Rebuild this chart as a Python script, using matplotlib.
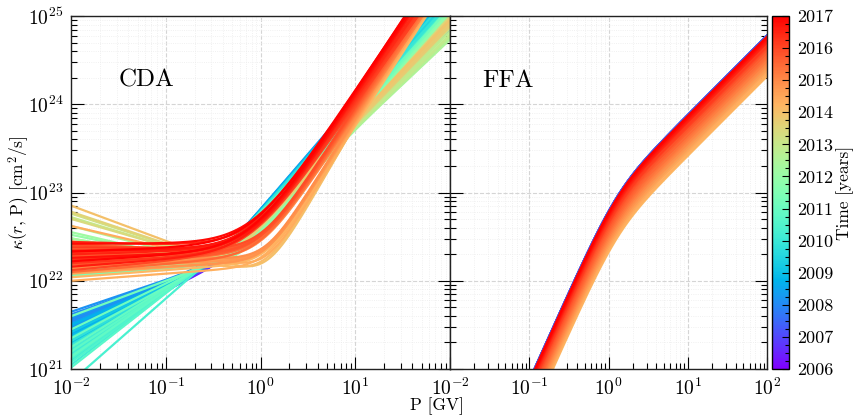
import numpy as np
import matplotlib
matplotlib.use('Agg')
import matplotlib.pyplot as plt
from matplotlib.ticker import LogLocator, MultipleLocator

plt.rcParams.update({
    'font.family': 'serif',
    'font.serif': ['cmr10', 'DejaVu Serif'],
    'mathtext.fontset': 'cm',
    'axes.formatter.use_mathtext': True,
    'axes.unicode_minus': False,
})

# CDA: one curve per month, 2006.0 ... 2017.0
cda_times = np.arange(2006, 2017.001, 1 / 12)

# CDA: log10 kappa at P = 0.01 GV, one row per year
cda_k001 = [
    21.38, 21.42, 21.35, 21.45, 21.40, 21.48, 21.36, 21.44, 21.41, 21.47, 21.39, 21.46,
    21.50, 21.45, 21.55, 21.48, 21.52, 21.58, 21.47, 21.53, 21.49, 21.56, 21.51, 21.60,
    21.62, 21.55, 21.65, 21.58, 21.48, 21.52, 21.40, 21.45, 21.35, 21.50, 21.42, 21.38,
    21.30, 21.25, 21.42, 21.33, 21.20, 21.36, 21.15, 21.28, 21.22, 21.32, 21.18, 21.27,
    21.10, 21.18, 21.05, 21.22, 20.86, 21.12, 21.08, 21.15, 21.02, 21.20, 21.14, 21.25,
    21.35, 21.45, 21.60, 22.06, 22.08, 22.12, 22.05, 22.15, 22.10, 22.30, 22.48, 22.40,
    22.52, 22.30, 22.55, 22.15, 22.25, 22.48, 22.35, 22.62, 22.20, 22.40, 22.28, 22.33,
    22.72, 22.32, 22.40, 22.76, 22.25, 22.70, 22.35, 22.78, 22.30, 22.22, 22.38, 22.28,
    22.85, 22.45, 22.04, 22.30, 22.00, 22.62, 22.20, 22.08, 22.35, 22.14, 22.10, 22.25,
    22.15, 22.30, 22.42, 22.22, 22.20, 22.36, 22.10, 22.26, 22.35, 22.18, 22.28, 22.40,
    22.12, 22.32, 22.38, 22.20, 22.24, 22.44, 22.30, 22.16, 22.34, 22.26, 22.42, 22.22,
    22.33,
]
# CDA: slope below the break
cda_slope_lo = [
    0.52, 0.50, 0.55, 0.48, 0.51, 0.47, 0.53, 0.49, 0.50, 0.47, 0.52, 0.48,
    0.45, 0.48, 0.42, 0.46, 0.44, 0.40, 0.47, 0.43, 0.46, 0.41, 0.45, 0.39,
    0.38, 0.42, 0.36, 0.40, 0.48, 0.45, 0.52, 0.49, 0.55, 0.46, 0.50, 0.53,
    0.60, 0.64, 0.52, 0.58, 0.68, 0.57, 0.72, 0.62, 0.66, 0.59, 0.70, 0.63,
    0.78, 0.72, 0.82, 0.68, 0.94, 0.76, 0.79, 0.74, 0.84, 0.70, 0.75, 0.67,
    0.58, 0.52, 0.40, 0.08, 0.08, 0.05, 0.10, 0.03, 0.06, -0.08, -0.20, -0.15,
    -0.22, 0.00, -0.25, 0.03, 0.02, -0.20, -0.03, -0.28, 0.05, -0.08, 0.01, -0.02,
    -0.33, -0.03, -0.08, -0.35, 0.02, -0.31, -0.05, -0.36, -0.02, 0.04, -0.06, 0.00,
    -0.40, -0.18, 0.08, -0.05, 0.08, -0.25, 0.02, 0.07, -0.06, 0.05, 0.06, 0.00,
    0.06, 0.00, -0.06, 0.04, 0.05, -0.02, 0.09, 0.03, -0.01, 0.07, 0.02, -0.03,
    0.10, 0.02, -0.02, 0.06, 0.05, -0.03, 0.03, 0.08, 0.01, 0.04, 0.00, 0.07,
    0.04,
]
# CDA: log10 kappa at P = 10 GV
cda_k10 = [
    23.76, 23.74, 23.78, 23.75, 23.80, 23.78, 23.77, 23.79, 23.76, 23.81, 23.78, 23.80,
    23.83, 23.85, 23.82, 23.86, 23.88, 23.90, 23.84, 23.87, 23.89, 23.92, 23.90, 23.94,
    24.00, 24.02, 24.06, 24.04, 24.01, 23.99, 24.03, 24.05, 24.02, 24.04, 24.00, 24.02,
    24.02, 23.97, 24.04, 23.99, 23.95, 24.00, 23.93, 23.98, 23.96, 24.01, 23.94, 23.97,
    23.90, 23.94, 23.88, 23.92, 23.85, 23.89, 23.91, 23.88, 23.86, 23.92, 23.89, 23.85,
    23.90, 23.88, 23.86, 23.84, 23.83, 23.81, 23.79, 23.82, 23.77, 23.80, 23.76, 23.78,
    23.74, 23.73, 23.76, 23.71, 23.74, 23.75, 23.72, 23.74, 23.73, 23.76, 23.74, 23.75,
    23.77, 23.76, 23.78, 23.80, 23.78, 23.80, 23.77, 23.79, 23.81, 23.78, 23.80, 23.82,
    23.78, 23.77, 23.76, 23.77, 23.78, 23.79, 23.80, 23.81, 23.82, 23.83, 23.84, 23.85,
    23.87, 23.88, 23.89, 23.90, 23.91, 23.92, 23.93, 23.94, 23.95, 23.96, 23.97, 23.98,
    24.00, 24.01, 24.03, 24.04, 24.06, 24.07, 24.09, 24.10, 24.11, 24.12, 24.14, 24.15,
    24.16,
]
# CDA, per year: log10 of the break rigidity and width of the break
cda_year = list(range(2006, 2018))
cda_break = [-0.35, -0.40, -0.50, -0.45, -0.30, -0.30, -0.40, -0.35, 0.06, 0.00, -0.10, -0.10]
cda_width = [0.30, 0.30, 0.30, 0.30, 0.30, 0.30, 0.30, 0.30, 0.30, 0.40, 0.55, 0.55]

# FFA: one curve every two months, log10 kappa at P = 1 GV
ffa_times = np.arange(2006, 2017.001, 1 / 6)
ffa_k1 = [
    22.755, 22.765, 22.775, 22.780, 22.785, 22.785,
    22.787, 22.787, 22.787, 22.785, 22.780, 22.770,
    22.740, 22.700, 22.660, 22.620, 22.580, 22.560,
    22.540, 22.520, 22.500, 22.480, 22.470, 22.460,
    22.450, 22.440, 22.430, 22.420, 22.410, 22.400,
    22.400, 22.420, 22.440, 22.460, 22.480, 22.500,
    22.520, 22.540, 22.560, 22.580, 22.600, 22.620,
    22.640, 22.660, 22.680, 22.700, 22.720, 22.740,
    22.495, 22.325, 22.345, 22.375, 22.405, 22.435,
    22.465, 22.495, 22.525, 22.555, 22.585, 22.615,
    22.645, 22.665, 22.695, 22.715, 22.735, 22.755,
    22.775,
]
# FFA shape: slopes and break
ffa_slope_lo, ffa_slope_hi, ffa_break, ffa_width = 2.0, 0.9, 0.1, 0.4


def soft(x, x_br, s):
    return s * np.log10(1 + 10 ** ((x - x_br) / s))


def cda_curve(x, k0, a_lo, k10, x_br, s):
    # broken power law (log-log) through k0 at 0.01 GV and k10 at 10 GV
    d_hi = (k10 - k0 - 3 * a_lo) / (soft(1.0, x_br, s) - soft(-2.0, x_br, s))
    return k0 + a_lo * (x + 2) + d_hi * (soft(x, x_br, s) - soft(-2.0, x_br, s))


def ffa_curve(x, k1):
    g = lambda u: ffa_slope_lo * u + (ffa_slope_hi - ffa_slope_lo) * soft(u, ffa_break, ffa_width)
    return k1 + g(x) - g(0.0)


cmap = plt.get_cmap('rainbow')
norm = plt.Normalize(2006, 2017)
x = np.linspace(-2, 2, 500)
P = 10 ** x

fig = plt.figure(figsize=(8.57, 4.15), dpi=100)
ax1 = fig.add_axes([0.0834, 0.1108, 0.4417, 0.8506])
ax2 = fig.add_axes([0.5251, 0.1108, 0.3703, 0.8506], sharey=ax1)
cax = fig.add_axes([0.9008, 0.1108, 0.0198, 0.8506])

for i, t in enumerate(cda_times):
    j = cda_year.index(int(t + 1e-6))
    y = cda_curve(x, cda_k001[i], cda_slope_lo[i], cda_k10[i], cda_break[j], cda_width[j])
    ax1.plot(P, 10 ** y, color=cmap(norm(t)), lw=1.6)

for i, t in enumerate(ffa_times):
    ax2.plot(P, 10 ** ffa_curve(x, ffa_k1[i]), color=cmap(norm(t)), lw=1.6)

for ax in (ax1, ax2):
    ax.set_xscale('log')
    ax.set_yscale('log')
    ax.set_xlim(1e-2, 1e2)
    ax.set_ylim(1e21, 1e25)
    ax.set_axisbelow(True)
    ax.grid(True, which='major', ls='--', color='#d5d5d5', lw=0.8)
    ax.grid(True, which='minor', ls=':', color='#ececec', lw=0.6)
    ax.xaxis.set_major_locator(LogLocator(base=10, numticks=10))
    ax.xaxis.set_minor_locator(LogLocator(base=10, subs=np.arange(2, 10), numticks=10))
    ax.yaxis.set_minor_locator(LogLocator(base=10, subs=np.arange(2, 10), numticks=10))
    ax.tick_params(which='both', direction='in', right=True, top=False,
                   labelsize=14, width=0.8)
    ax.tick_params(which='major', length=9, pad=6)
    ax.tick_params(which='minor', length=4.5)
    for sp in ax.spines.values():
        sp.set_linewidth(1.0)
        sp.set_color('#222222')

ax2.tick_params(labelleft=False)
ax1.set_xticks([1e-2, 1e-1, 1e0, 1e1, 1e2])
ax1.set_xticklabels([r'$10^{-2}$', r'$10^{-1}$', r'$10^{0}$', r'$10^{1}$', ''])
ax1.set_xlim(1e-2, 1e2)

ax1.text(0.125, 0.80, 'CDA', transform=ax1.transAxes, fontsize=18, va='baseline')
ax2.text(0.10, 0.80, 'FFA', transform=ax2.transAxes, fontsize=18, va='baseline')
ax1.set_ylabel(r'$\kappa(r,\,\mathrm{P})$ [cm$^2$/s]', fontsize=12.5)
ax1.yaxis.set_label_coords(-0.108, 0.5)
fig.text(0.51, 0.022, 'P [GV]', ha='center', va='center', fontsize=12.5)

sm = plt.cm.ScalarMappable(cmap=cmap, norm=norm)
cb = fig.colorbar(sm, cax=cax)
cb.set_ticks(range(2006, 2018))
cb.set_ticklabels([str(v) for v in range(2006, 2018)])
cb.ax.yaxis.set_minor_locator(MultipleLocator(0.25))
cb.ax.tick_params(which='both', direction='in', labelsize=13, width=0.8, pad=6)
cb.ax.tick_params(which='major', length=5)
cb.ax.tick_params(which='minor', length=3)
cb.outline.set_linewidth(1.0)
cb.set_label('Time [years]', fontsize=12.5, labelpad=2)

fig.savefig('out.png', dpi=100)
